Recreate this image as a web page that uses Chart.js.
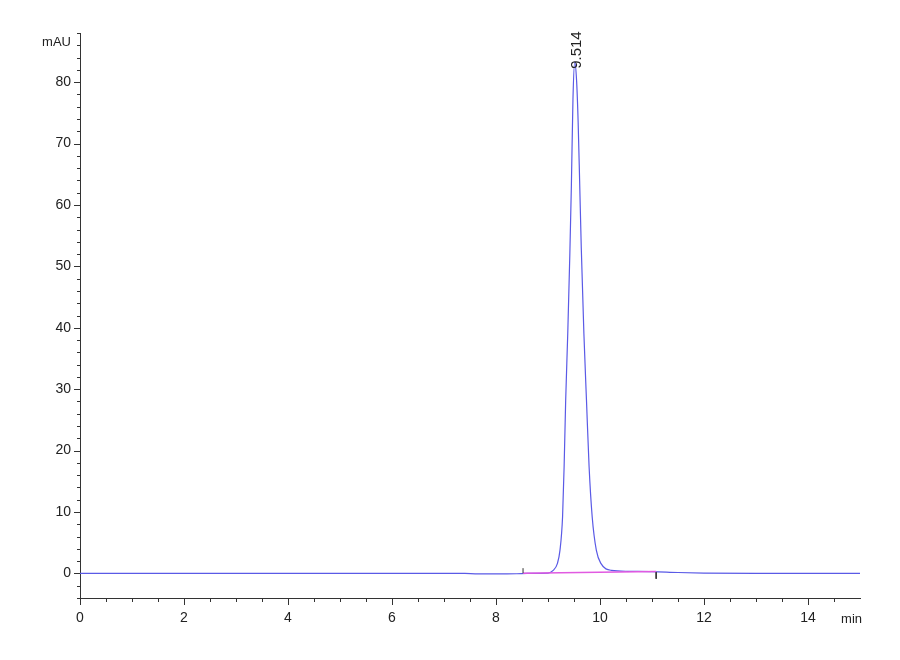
<!DOCTYPE html>
<html lang="en">
<head>
  <meta charset="UTF-8">
  <title>Chromatogram</title>
  <script src="https://cdn.jsdelivr.net/npm/chart.js"></script>
  <style>
    html, body { margin: 0; padding: 0; background: #fff; }
    #wrap { width: 900px; height: 660px; }
  </style>
</head>
<body>
  <div id="wrap"><canvas id="chrom" width="900" height="660"></canvas></div>
  <script>
    // signal trace (time in min, signal in mAU)
    const traceTime = [0, 2, 4, 6, 7.4, 7.6, 8.0, 8.4, 8.6, 9.0, 9.10, 9.18, 9.23, 9.28, 9.31, 9.34,
      9.38, 9.42, 9.45, 9.48, 9.514, 9.55, 9.58, 9.61, 9.64, 9.69, 9.74, 9.79, 9.85, 9.93,
      10.02, 10.22, 10.54, 11.0, 11.5, 12.0, 13.0, 14.0, 15.0];
    const traceMAU = [0, 0, 0.02, 0, 0, -0.06, -0.08, -0.05, 0, 0.05, 0.5, 1.6, 3.75, 9.2, 17.4, 28.2,
      39.1, 52.0, 63.3, 77.2, 83.3, 80.2, 73.4, 63.3, 53.0, 39.1, 28.2, 17.4, 9.2, 3.75,
      1.6, 0.5, 0.35, 0.3, 0.15, 0.05, 0, 0, 0];

    // integration baseline of the peak
    const baseTime = [8.52, 11.08];
    const baseMAU = [0.05, 0.33];

    // start / end markers of the integration
    const startMark = [0.05, 0.86];
    const endMark = [0.2, -0.87];

    const peakTime = 9.514;
    const peakLabel = '9.514';

    const xLabelTicks = [0, 2, 4, 6, 8, 10, 12, 14];
    const yLabelTicks = [0, 10, 20, 30, 40, 50, 60, 70, 80];

    const pts = (xs, ys) => xs.map((x, i) => ({ x: x, y: ys[i] }));
    const axisFont = { family: "'Liberation Sans', Arial, sans-serif", size: 14 };
    const ink = '#333';

    // tick marks (long / short), peak label and unit labels
    const decor = {
      id: 'decor',
      afterDraw(chart) {
        const ctx = chart.ctx;
        const xs = chart.scales.x, ys = chart.scales.y;
        const area = chart.chartArea;
        ctx.save();
        ctx.strokeStyle = ink;
        ctx.lineWidth = 1;
        ctx.beginPath();
        xs.ticks.forEach(t => {
          if (t.value >= xs.max) return;
          const px = Math.round(xs.getPixelForValue(t.value)) + 0.5;
          const len = xLabelTicks.includes(t.value) ? 7 : 4;
          ctx.moveTo(px, area.bottom);
          ctx.lineTo(px, area.bottom + len);
        });
        ys.ticks.forEach(t => {
          const py = Math.round(ys.getPixelForValue(t.value)) + 0.5;
          const len = yLabelTicks.includes(t.value) ? 6 : 3;
          ctx.moveTo(area.left, py);
          ctx.lineTo(area.left - len, py);
        });
        ctx.stroke();

        ctx.fillStyle = '#222';
        ctx.font = "13px 'Liberation Sans', Arial, sans-serif";
        ctx.textAlign = 'right';
        ctx.textBaseline = 'middle';
        ctx.fillText('mAU', 71, 42);
        ctx.fillText('min', area.right + 2, 619);

        // retention time label, rotated
        const peakIdx = traceTime.indexOf(peakTime);
        const lx = xs.getPixelForValue(peakTime) + 2;
        const ly = ys.getPixelForValue(traceMAU[peakIdx]);
        ctx.translate(lx, ly + 7);
        ctx.rotate(-Math.PI / 2);
        ctx.textAlign = 'left';
        ctx.font = "15px 'Liberation Sans', Arial, sans-serif";
        ctx.fillText(peakLabel, 0, 0);
        ctx.restore();
      }
    };

    new Chart(document.getElementById('chrom').getContext('2d'), {
      type: 'line',
      data: {
        datasets: [
          {
            label: 'signal',
            data: pts(traceTime, traceMAU),
            borderColor: 'rgb(90, 90, 230)',
            borderWidth: 1.2,
            pointRadius: 0,
            cubicInterpolationMode: 'monotone',
            order: 2
          },
          {
            label: 'baseline',
            data: pts(baseTime, baseMAU),
            borderColor: 'rgb(225, 90, 225)',
            borderWidth: 1.5,
            pointRadius: 0,
            order: 1
          },
          {
            label: 'start',
            data: pts([baseTime[0], baseTime[0]], startMark),
            borderColor: ink,
            borderWidth: 1,
            pointRadius: 0
          },
          {
            label: 'end',
            data: pts([baseTime[1], baseTime[1]], endMark),
            borderColor: ink,
            borderWidth: 1,
            pointRadius: 0
          }
        ]
      },
      options: {
        responsive: false,
        animation: false,
        layout: { padding: { top: 33, right: 40, left: 0, bottom: 0 } },
        plugins: { legend: { display: false }, tooltip: { enabled: false } },
        scales: {
          x: {
            type: 'linear',
            min: 0,
            max: 15,
            grid: { display: false, drawTicks: false },
            border: { display: true, color: ink, width: 1 },
            ticks: {
              stepSize: 0.5,
              autoSkip: false,
              maxRotation: 0,
              padding: 12,
              color: '#222',
              font: axisFont,
              callback: v => (xLabelTicks.includes(v) ? v : '')
            },
            afterFit: s => { s.height = 62; }
          },
          y: {
            min: -4,
            max: 88,
            grid: { display: false, drawTicks: false },
            border: { display: true, color: ink, width: 1 },
            ticks: {
              stepSize: 2,
              autoSkip: false,
              padding: 9,
              color: '#222',
              font: axisFont,
              callback: v => (yLabelTicks.includes(v) ? v : '')
            },
            afterFit: s => { s.width = 80; }
          }
        }
      },
      plugins: [decor]
    });
  </script>
</body>
</html>
